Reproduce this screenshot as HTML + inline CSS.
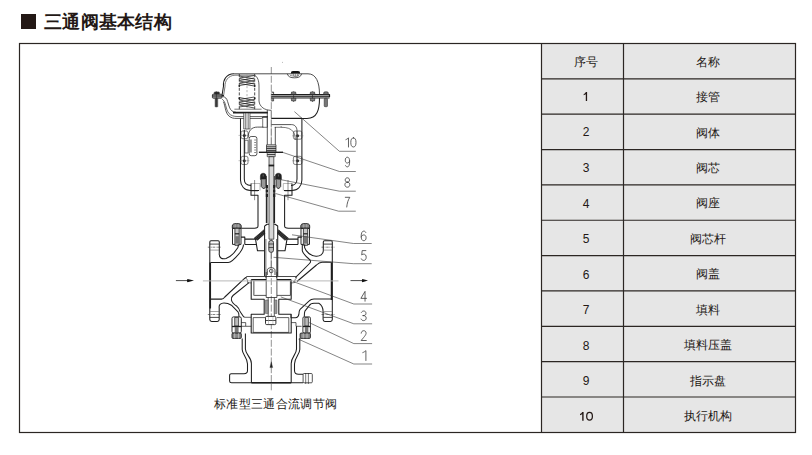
<!DOCTYPE html>
<html><head><meta charset="utf-8">
<style>
*{margin:0;padding:0;box-sizing:border-box}
html,body{width:812px;height:455px;background:#fff;overflow:hidden;font-family:"Liberation Sans",sans-serif;color:#231815}
#title{position:absolute;left:21px;top:11px;height:22px;font-size:18px;font-weight:900;line-height:22px;white-space:nowrap}
#title .sq{position:absolute;left:0;top:3.3px;width:14.8px;height:14.6px;background:#231815}
#title .tx{position:absolute;left:23px;top:0;letter-spacing:0.3px}
#frame{display:none}
#tbl{position:absolute;left:542px;top:43px;width:254px;height:390px;background:#e6e6e6}
#tbl .hl{position:absolute;left:0;width:254px;height:1px;background:#3a3532}
#tbl .vl{position:absolute;top:0;width:1px;height:390px;background:#3a3532}
#tbl .c{position:absolute;font-size:12px;line-height:14px;text-align:center;color:#231815}
#drw{position:absolute;left:0;top:0}
#cap{position:absolute;left:214px;top:397px;font-size:12px;line-height:14px;color:#231815;white-space:nowrap;letter-spacing:0.33px}
</style></head><body>
<div id="title"><div class="sq"></div><div class="tx">三通阀基本结构</div></div>
<div id="frame"></div>
<div id="tbl">
<div class="c" style="left:4px;width:80px;top:11.67px">序号</div>
<div class="c" style="left:84px;width:164px;top:11.67px">名称</div>
<div class="c" style="left:84px;width:164px;top:47.12px">接管</div>
<div class="c" style="left:4px;width:80px;top:82.44px">2</div>
<div class="c" style="left:84px;width:164px;top:82.56px">阀体</div>
<div class="c" style="left:4px;width:80px;top:117.97px">3</div>
<div class="c" style="left:84px;width:164px;top:118.00px">阀芯</div>
<div class="c" style="left:4px;width:80px;top:153.50px">4</div>
<div class="c" style="left:84px;width:164px;top:153.44px">阀座</div>
<div class="c" style="left:4px;width:80px;top:189.03px">5</div>
<div class="c" style="left:84px;width:164px;top:188.88px">阀芯杆</div>
<div class="c" style="left:4px;width:80px;top:224.55px">6</div>
<div class="c" style="left:84px;width:164px;top:224.31px">阀盖</div>
<div class="c" style="left:4px;width:80px;top:260.08px">7</div>
<div class="c" style="left:84px;width:164px;top:259.75px">填料</div>
<div class="c" style="left:4px;width:80px;top:295.62px">8</div>
<div class="c" style="left:84px;width:164px;top:295.20px">填料压盖</div>
<div class="c" style="left:4px;width:80px;top:331.14px">9</div>
<div class="c" style="left:84px;width:164px;top:330.63px">指示盘</div>
<div class="c" style="left:84px;width:164px;top:366.07px">执行机构</div>
</div>
<div id="cap">标准型三通合流调节阀</div>
<svg id="drw" width="812" height="455" viewBox="0 0 812 455">
<g stroke="#2b2623" stroke-width="1.2" fill="none">
<rect x="19.5" y="43.5" width="776" height="389"/>
<line x1="541.5" y1="43.5" x2="541.5" y2="432.5"/>
<line x1="623.5" y1="43.5" x2="623.5" y2="432.5"/>
<line x1="542" y1="78.85" x2="795.5" y2="78.85"/>
<line x1="542" y1="114.20" x2="795.5" y2="114.20"/>
<line x1="542" y1="149.55" x2="795.5" y2="149.55"/>
<line x1="542" y1="184.90" x2="795.5" y2="184.90"/>
<line x1="542" y1="220.25" x2="795.5" y2="220.25"/>
<line x1="542" y1="255.60" x2="795.5" y2="255.60"/>
<line x1="542" y1="290.95" x2="795.5" y2="290.95"/>
<line x1="542" y1="326.30" x2="795.5" y2="326.30"/>
<line x1="542" y1="361.65" x2="795.5" y2="361.65"/>
<line x1="542" y1="397.00" x2="795.5" y2="397.00"/>
</g>
<!--DRAWSTART-->
<g id="dw" fill="none" stroke="#1e1e1e" stroke-width="1.05" stroke-linejoin="round" stroke-linecap="butt">
<!-- centerline -->
<line x1="271.3" y1="67" x2="271.3" y2="390.3" stroke="#666" stroke-width="0.7" stroke-dasharray="7,1.8"/>
<!-- ACTUATOR upper case -->
<path d="M234,73.8 H308 C316,73.8 319.5,82 319.5,94.6" stroke="#444" stroke-width="0.95"/>
<path d="M234,73.8 C226,74 223,80 223.5,86 L222,95.5"/>
<path d="M235,75.2 C228,75.5 224.8,81 225,86.5 L223.6,95.5" stroke-width="0.6"/>
<path d="M235,75.2 H254.7" stroke-width="0.6"/>
<!-- flange band right -->
<rect x="271.3" y="94.5" width="58.2" height="2.2" fill="#999" stroke="none"/>
<path d="M271.3,94.5 H329.5 V97.2 M271.3,96.8 H329.5" stroke-width="1.2"/>
<path d="M271.3,98.3 H329.5" stroke-width="0.6"/>
<!-- flange left -->
<path d="M212.5,95.6 H224"/>
<!-- lower case right exterior -->
<path d="M319.5,97.9 C319.5,110 317,118.4 307,118.4 H271.3"/>
<!-- vent -->
<path d="M287.3,73.8 C288,77 291,77.8 294.5,77.8 C298,77.8 301,77 301.6,73.8" stroke-width="0.75"/>
<path d="M290,75.3 C292,76.3 297,76.3 299,75.3" stroke-width="0.5"/>
<path d="M291,73.6 V72.3 C291,71.4 292,71 295.5,71 C299,71 300,71.4 300,72.3 V73.6 Z" fill="#111" stroke="none"/>
<rect x="293.8" y="73.6" width="3.9" height="2.6" fill="#fff" stroke="#222" stroke-width="0.5"/>
<path d="M295.7,73.6 V76.2" stroke="#222" stroke-width="0.5"/>
<circle cx="282.4" cy="62.2" r="0.45" fill="#777" stroke="none"/>
<!-- bolts on flange (right) -->
<g stroke-width="0.6" fill="#888">
<path d="M293.6,91.3 V102 M312.5,91.3 V102 M326,91.3 V94"/>
<path d="M271.3,92 H273.6 V94.2 M271.3,98.3 H273.6 V101 H271.3"/>
<path d="M291.2,94.2 L291.6,92 H295.6 L296,94.2 Z M291.2,98.3 L291.6,100.9 H295.6 L296,98.3 Z"/>
<path d="M310.1,94.2 L310.5,92 H314.5 L314.9,94.2 Z M310.1,98.3 L310.5,100.9 H314.5 L314.9,98.3 Z"/>
<path d="M323.6,94.2 L324,92 H328 L328.4,94.2 Z"/>
<rect x="324.2" y="98.3" width="3.3" height="8.4" rx="0.8" fill="#777" stroke-width="0.5"/>
</g>
<!-- left bolt -->
<rect x="214.2" y="91.9" width="5.2" height="2.4" rx="0.8" fill="#333" stroke="#222" stroke-width="0.5"/>
<rect x="212.4" y="94.2" width="9.6" height="4" rx="0.8" fill="#999" stroke="#222" stroke-width="0.8"/>
<path d="M212.4,96 H222.5" stroke="#222" stroke-width="0.8"/>
<rect x="215" y="98.2" width="2.8" height="8.6" fill="#555" stroke="#333" stroke-width="0.4"/>
<path d="M216.4,91.3 V107.2" stroke="#222" stroke-width="0.6"/>
<!-- spring housing lines -->
<path d="M239.3,74 V110 M254.7,74 V110" stroke-width="0.8" stroke-dasharray="3,1.6"/>
<path d="M247,74 V110" stroke="#999" stroke-width="0.7" stroke-dasharray="2.2,1.8"/>
<g stroke-width="0.75">
<path d="M239.4,76 L254.4,79 M239.4,78.5 L254.4,81.5 M239.4,81 L254.4,84 M239.4,83.5 L254.4,86"/>
<path d="M239.4,78 L254.4,75.5 M239.4,80.5 L254.4,78 M239.4,83 L254.4,80.5 M239.4,85.5 L254.4,83"/>
<path d="M239.4,97.5 L254.4,100.5 M239.4,100 L254.4,103 M239.4,102.5 L254.4,105.5 M239.4,105 L254.4,108"/>
<path d="M239.4,99.5 L254.4,97 M239.4,102 L254.4,99.5 M239.4,104.5 L254.4,102 M239.4,107 L254.4,104.5"/>
</g>
<circle cx="239.3" cy="86" r="0.9" fill="#222" stroke="none"/><circle cx="254.7" cy="86" r="0.9" fill="#222" stroke="none"/>
<circle cx="239.3" cy="98.2" r="0.9" fill="#222" stroke="none"/><circle cx="254.7" cy="98.2" r="0.9" fill="#222" stroke="none"/>
<!-- inner cup wall -->
<path d="M255,75.5 C257.5,77 259,80.5 259,86 V101 C259.3,104 260.5,106 263,108 C265,109.5 268,110.2 271.3,110.4" stroke-width="0.7"/>
<!-- lower case left (section) -->
<path d="M222.5,96.4 C225.5,97 226.8,98.5 227.6,101.5 L229,106 C229.8,108.5 231,110.8 233.5,111.8 L236,112.3" stroke-width="0.75"/>
<path d="M233,112.6 H267.8" stroke-width="1.6"/>
<path d="M222.1,99.1 C224,100.5 225,102.5 225.7,105.5 L226.9,109.6 C227.8,112.5 229.5,114.8 232.6,115.8 C234,116.3 235.5,116.5 237,116.5 H268" stroke-width="0.65"/>
<path d="M223.4,101.7 C224.5,104 225,107.5 225.8,110.5 C226.8,114 228.5,116.8 232.6,118 C233.8,118.3 235,118.4 236,118.4 H261.6 L262.8,117 H267.6" stroke-width="0.75"/>
<path d="M234.4,109.2 H261.6" stroke-width="0.6"/>
<!-- yoke top bolt left -->
<rect x="243.7" y="113" width="6.3" height="16" fill="#eee" stroke-width="0.6"/>
<path d="M245.4,113 V129 M248.3,113 V129" stroke-width="0.5"/>
<path d="M246.85,113 V130.5" stroke="#666" stroke-width="0.4"/>
<!-- small boss right of stem -->
<rect x="262.7" y="117.3" width="4.6" height="10" stroke-width="0.6"/>
<!-- yoke -->
<path d="M240.5,118.5 V180 C240.5,186 244.5,190.5 250.5,190.5 H259" />
<path d="M244.3,130 V179 C244.3,183 247,185.5 251,185.5" />
<path d="M301.9,118.3 V180 C301.9,186 298,190.5 292,190.5 H284" />
<path d="M297,131 V179 C297,183 294.5,185.5 291,185.5" />
<path d="M271.3,118.3 H301.9" stroke-width="1.1"/>
<path d="M271.3,124.6 H291.5 C294.8,124.6 297,127 297,131" stroke-width="0.75"/>
<path d="M248.1,137.6 C248.3,130.5 251.5,127.1 257.5,127.1 H263.3" stroke-width="0.75"/>
<path d="M244.8,140.3 H248.1 V153 H244.8 Z" stroke-width="0.6"/>
<path d="M274.7,127.3 H281.3 C287,127.3 291,128.5 293.5,132 C294.6,133.5 295.2,136 295.2,140" stroke-width="0.6"/>
<path d="M280.8,126 L281.8,127.6" stroke-width="0.5"/>
<!-- yoke bolt bosses -->
<g stroke-width="0.55">
<rect x="241" y="131" width="7" height="7.7" rx="1.8"/>
<rect x="241" y="156.3" width="7" height="8.2" rx="1.8"/>
<rect x="293.4" y="131" width="8.5" height="8.2" rx="1.8"/>
<rect x="293.4" y="156.3" width="8.5" height="8.2" rx="1.8"/>
<path d="M238.5,135.4 H249.5 M238.5,160.7 H249.5 M292,135.8 H303.5 M292,160.8 H303.5" stroke="#666" stroke-width="0.4"/>
</g>
<g fill="#333" stroke="none">
<circle cx="244.3" cy="135.4" r="1.5"/><circle cx="244.3" cy="160.7" r="1.5"/>
<circle cx="297.6" cy="135.8" r="1.5"/><circle cx="297.6" cy="160.8" r="1.5"/>
</g>
<!-- scale plate -->
<rect x="249.2" y="136.5" width="7.7" height="19.2" rx="2" stroke-width="0.75"/>
<rect x="250.3" y="139.5" width="1.3" height="13" fill="#666" stroke="none"/>
<path d="M254.3,140 h1.6 M254.3,142.5 h1.6 M254.3,145 h1.6 M254.3,147.5 h1.6 M254.3,150 h1.6 M254.3,152.5 h1.6" stroke-width="0.6"/>
<!-- stem -->
<path d="M267.3,110 V144.8 M275.3,127 V144.8" stroke-width="0.75"/>
<path d="M271.3,110 V144.8" stroke-width="0.5" stroke="#777"/>
<rect x="266.5" y="144.8" width="9.5" height="7.2" fill="#ddd" stroke-width="0.7"/>
<path d="M266.5,146.8 h9.5 M266.5,148.6 h9.5 M266.5,150.4 h9.5" stroke-width="0.9"/>
<rect x="267.2" y="152.6" width="8" height="4.1" fill="#ddd" stroke-width="0.6"/>
<path d="M267.2,154.6 h8" stroke-width="0.9"/>
<rect x="269" y="156.7" width="4.8" height="82.5" fill="#d8d8d8" stroke-width="0.7"/>
<path d="M268.7,165.5 h5.4" stroke-width="1.8"/>
<!-- indicator disk -->
<path d="M258.9,152.3 H283" stroke-width="1.4"/>
<!-- yoke/bonnet joint -->
<path d="M251,183.5 H260 V190.5" stroke="#888" stroke-width="0.6"/>
<path d="M251,183.5 V195.3 H258 V226 C258,227.5 256.5,228.2 254.5,228.2 H241.3" />
<path d="M251,190.8 H258" stroke-width="0.7"/>
<path d="M292,183.5 H283.3 V190.5" stroke="#888" stroke-width="0.6"/>
<path d="M292,183.5 V195.3 H284.6 V226 C284.6,227.5 286.3,228.2 288.3,228.2 H300.8" />
<path d="M292,190.8 H284.6" stroke-width="0.7"/>
<path d="M254.6,180 V200.2 M288,180 V200.2" stroke-width="0.5"/>
<!-- packing box -->
<path d="M266.3,176 V223 M274.6,176 V223" stroke-width="0.8"/>
<g fill="#222" stroke="none">
<rect x="265.8" y="185" width="2.2" height="3.5"/><rect x="265.8" y="189.5" width="2.2" height="3"/><rect x="265.8" y="193.5" width="2.2" height="3.5"/>
<rect x="273.1" y="185" width="2.2" height="3.5"/><rect x="273.1" y="189.5" width="2.2" height="3"/><rect x="273.1" y="193.5" width="2.2" height="3.5"/>
</g>
<path d="M266.8,197 V223 M274.3,197 V223" stroke-width="1.3"/>
<!-- gland bolts -->
<path d="M260.4,176.5 C260.4,174 261.5,173.3 263.2,173.3 C265,173.3 266.1,174 266.1,176.5 V179.4 H260.4 Z" fill="#222" stroke="#111" stroke-width="0.5"/>
<path d="M275.4,176.5 C275.4,174 276.5,173.3 278.4,173.3 C280.3,173.3 281.4,174 281.4,176.5 V179.4 H275.4 Z" fill="#222" stroke="#111" stroke-width="0.5"/>
<path d="M261.2,179.4 V186.5 L263.7,189 L266,186.5 V179.4 M276.1,179.4 V186.5 L278.4,189 L280.7,186.5 V179.4" fill="#999" stroke="#111" stroke-width="0.8"/>
<path d="M263.2,174.5 V176.5 M278.4,174.5 V176.5" stroke="#888" stroke-width="0.6"/>
<!-- bonnet bolts -->
<g id="bb1">
<path d="M232.3,228.3 V226 C232.3,224.2 233.5,223.6 236.7,223.6 C240,223.6 241.2,224.2 241.2,226 V228.3 Z" fill="#888" stroke="#1e1e1e" stroke-width="0.9"/>
<path d="M235.2,224 V228.3 M238.2,224 V228.3" stroke="#ccc" stroke-width="0.5"/>
<rect x="232.5" y="228.3" width="8.5" height="16.1" stroke-width="0.95"/>
<rect x="234.9" y="228.3" width="4.3" height="17" fill="#c8c8c8" stroke-width="0.8"/>
<path d="M234.9,233.8 h4.3" stroke-width="1.2"/>
<rect x="235.2" y="236.2" width="3.8" height="7.4" fill="#777" stroke="none"/>
</g>
<use href="#bb1" transform="translate(68.5,0)"/>
<!-- body top flange lines -->
<path d="M241,237.1 H244.8 V244.4 M244.8,239.1 H255.5 L257.5,250.8 H264.6 M244.8,244.4 H257" />
<path d="M301.8,237.1 H298 V244.4 M298,239.1 H287 L285,250.8 H277.7 M298,244.4 H285.5" />
<!-- hatched packing/cones -->
<defs>
<pattern id="hL" patternUnits="userSpaceOnUse" width="1.7" height="1.7" patternTransform="rotate(-40)"><rect width="1.7" height="1.7" fill="#fff"/><rect width="0.5" height="1.7" fill="#888"/></pattern>
<pattern id="hR" patternUnits="userSpaceOnUse" width="1.7" height="1.7" patternTransform="rotate(40)"><rect width="1.7" height="1.7" fill="#fff"/><rect width="0.5" height="1.7" fill="#888"/></pattern>
</defs>
<path d="M254,238.3 L263.9,229.8 L264.8,233.8 L257.6,240.2 Z" fill="url(#hL)" stroke-width="0.6"/>
<path d="M288.5,238.3 L278.6,229.8 L277.7,233.8 L284.9,240.2 Z" fill="url(#hR)" stroke-width="0.6"/>
<!-- guide column -->
<path d="M264.6,226 L267.1,224.2 H269 M273.8,224.2 H275.1 L277.7,226 V276 M264.6,226 V276" />
<path d="M265.9,239 V278 M276.5,239 V278" stroke-width="0.6"/>
<path d="M258,242.3 V242.3" />
<rect x="268.8" y="240.5" width="4.7" height="11.8" rx="2" fill="#bbb" stroke-width="0.8"/>
<path d="M268.8,244 h4.7 M268.8,247.5 h4.7" stroke-width="0.7"/>
<path d="M271.2,252.3 V268" stroke="#444" stroke-width="0.5"/>
<path d="M267.3,275 V270.5 C267.3,268.5 269,267.7 271.2,267.7 C273.4,267.7 275,268.5 275,270.5 V275" stroke-width="0.8"/>
<circle cx="271.2" cy="271" r="1.8" stroke-width="0.7"/>
<!-- LEFT FLANGE -->
<path d="M209.8,242 C209.8,241.2 210.3,240.8 211,240.8 H218.1 C218.8,240.8 219.3,241.2 219.3,242 V252.7 C218.7,258 222,259.5 226,258.5 C230.5,257 235,252 237.6,248 C238.5,246.5 238.3,245.5 238.3,244.5" />
<path d="M209.8,242 V319.5 C209.8,320.7 210.5,321.4 211.7,321.4 H217.3 C218.5,321.4 219.2,320.7 219.2,319.5 V307.9 C218.7,305 220.5,303 224,303 C227,303 229.5,304 231.4,305.2 L238,311.8 C238.8,312.6 239,314 239,316.7" />
<path d="M210.2,262.5 V308.5" stroke-width="1.7"/>
<path d="M210.6,262.5 H228.2 C232,262.5 236,257.5 240,252.5 C242.5,249 243.5,247 243.5,244.4" />
<path d="M210.6,299.1 H221.5 C223,299.1 224,298.2 224.8,297 L243.5,279.3 C244.5,278.3 245.5,277.5 246.5,277.2" />
<path d="M249,282.6 L233,295.5 C231.3,297 231,298.5 231.4,300 C232,302.5 234,304.5 236.9,306.3 C238.5,307.5 239.5,309.5 240.2,311.8 L242.4,315 C243,316 243.8,317 244.6,317.3" />
<path d="M207.8,247.2 H221 M207.8,314.5 H221" stroke="#333" stroke-width="0.6" stroke-dasharray="2.5,0.7,0.8,0.7"/>
<path d="M209.8,244.1 H219 M209.8,317.4 H219" stroke-width="0.8"/>
<path d="M209.8,250.1 H219 M209.8,311.5 H219" stroke="#666" stroke-width="0.6"/>
<!-- RIGHT FLANGE -->
<path d="M332.3,242 C332.3,241.2 331.8,240.8 331.1,240.8 H324.5 C323.8,240.8 323.3,241.2 323.3,242 V251 C323.3,254 320,256.5 316,256.2 C311,256 306,252 304.6,247.7 V244.4" />
<path d="M332.3,242 V319.5 C332.3,320.7 331.6,321.4 330.4,321.4 H324.9 C323.7,321.4 323.1,320.7 323.1,319.5 V311.7 C323,308 322,305 318.8,303.3 H314 C311.5,303.3 309.8,304.5 309.2,305.7 L304.9,311.1 C304.5,312 304.3,314 304.3,316.7" />
<path d="M331.6,262.3 V300" stroke-width="1.7"/>
<path d="M302.3,244.4 V250.8 C303,253.5 306,256.5 309,259 C311,260.5 311,262 309.5,263.5 L295.4,277.7" />
<path d="M331.5,262.3 H322 C319.5,262.3 318.5,263 316.5,265 L297,281.5" />
<path d="M331.5,299 H314 C311.5,299 310.5,299.5 309.2,300.9 L300.1,309.3 C299.2,310.5 298.9,312 298.9,314.2 C298.5,316.5 297.5,317.8 295.3,317.8 H290.8" />
<path d="M321.5,247.2 H334.5 M321.5,314.5 H334.5" stroke="#333" stroke-width="0.6" stroke-dasharray="2.5,0.7,0.8,0.7"/>
<path d="M323.3,244.1 H332.3 M323.3,317.4 H332.3" stroke-width="0.8"/>
<path d="M323.3,250.1 H332.3 M323.3,311.5 H332.3" stroke="#666" stroke-width="0.6"/>
<!-- seat top ring -->
<path d="M246.5,276.5 H295.8" stroke-width="0.8"/>
<path d="M251.2,279.8 H266.2 M276.9,279.8 H291.2" stroke-width="1.5"/>
<path d="M246.5,276.5 L245.8,278 L247.5,280 V282.5 L251.2,283" stroke-width="0.6"/>
<path d="M295.8,276.5 L296.5,278 L294.8,280 V282.5 L291.2,283" stroke-width="0.6"/>
<!-- PLUG -->
<path d="M251.2,279.8 V299.2 H264.2 V314.3 H251.2 V333 H291.2 V314.3 H278.8 V299.2 H291.2 V279.8" />
<path d="M253.8,280.8 V295.4 H266.2 M276.9,295.4 H290.4 V280.8" stroke-width="0.75"/>
<rect x="253.9" y="281" width="1" height="14.2" fill="#bbb" stroke="none"/>
<path d="M266.2,272 V297.5 H276.9 V272" stroke-width="0.75"/>
<path d="M268.2,297.5 V316.3 M274.3,297.5 V316.3" stroke-width="0.7"/>
<rect x="265.5" y="300" width="2.7" height="13.5" fill="#999" stroke="#333" stroke-width="0.4"/>
<rect x="274.3" y="300" width="2.7" height="13.5" fill="#999" stroke="#333" stroke-width="0.4"/>
<path d="M253.2,317.6 H265.7 M276.9,317.6 H288.8 M253.2,317.6 V332.4 H288.8 V317.6" stroke-width="0.7"/>
<!-- nut -->
<rect x="265.5" y="316.4" width="10.4" height="8.2" rx="1.2" fill="#fff" stroke-width="0.9"/>
<path d="M265.5,320.5 h10.4" stroke-width="0.8"/>
<path d="M268.5,316.8 v7.4 M272.9,316.8 v7.4" stroke="#999" stroke-width="0.5"/>
<!-- lower body -->
<path d="M244.6,317.3 H251.2 M241.3,322.6 H245.7 V326.3 H251.2 M241.3,326.3 H245.7" stroke-width="0.7"/>
<path d="M290.8,317.8 V314.3 M291.2,322.6 H296 V326.3 H301.6" stroke-width="0.7"/>
<!-- lower body bolts -->
<g id="lb1">
<rect x="232" y="316.9" width="9.3" height="16.2" rx="1.5" stroke-width="0.95"/>
<rect x="234.7" y="317.5" width="3.9" height="8.5" fill="#bbb" stroke-width="0.7"/>
<path d="M232,326.5 h9.3" stroke-width="1.3"/>
<rect x="234.7" y="327" width="3.9" height="6" fill="#777" stroke="none"/>
<rect x="232" y="333.1" width="9.3" height="5.3" rx="1" fill="#888" stroke-width="0.9"/>
<path d="M234.7,333.1 V338.4 M238.6,333.1 V338.4" stroke="#eee" stroke-width="0.5"/>
</g>
<g>
<rect x="302.9" y="316.9" width="7.5" height="16.2" rx="1.2" stroke-width="0.9"/>
<rect x="304.8" y="317.5" width="3.6" height="8.5" fill="#bbb" stroke-width="0.7"/>
<path d="M302.9,326.5 h7.5" stroke-width="1.3"/>
<rect x="304.8" y="327" width="3.6" height="6" fill="#777" stroke="none"/>
<rect x="300.1" y="333.1" width="10.3" height="5.3" rx="1" fill="#888" stroke-width="0.9"/>
<path d="M303.2,333.1 V338.4 M307,333.1 V338.4" stroke="#eee" stroke-width="0.5"/>
</g>
<!-- lower body neck & flange -->
<path d="M242.2,338.5 V349.5 C242.2,354.5 247.5,357.5 247.5,364 V370.5 C247.5,372.5 246.5,373.7 244,373.7 H231.6 C230.3,373.5 229.6,374.3 229.6,375.5 V381 C229.6,382.2 230.3,382.8 231.6,382.8 H303.1" />
<path d="M245.4,333.4 V349 C245.4,354.5 251.4,357 251.4,363.5 V382.8" />
<path d="M299.8,337.9 V349.5 C299.8,354.5 294.5,357.5 294.5,364 V370.5 C294.5,372.8 296,374.2 298.5,374.2 H303.1" />
<path d="M296.5,326.3 V349 C296.5,354.5 291.2,357 291.2,363.5 V382.8" />
<path d="M251.4,382.8 H291.2" stroke-width="1.4"/>
<rect x="303.1" y="373.5" width="9.2" height="9.3" rx="1" stroke-width="0.75"/>
<path d="M305.7,373 V384 M308.4,373 V384" stroke-width="0.6"/>
<!-- flow arrow up -->
<path d="M271.3,361.7 L269.9,367.6 H272.7 Z" fill="#222" stroke-width="0.3"/>
<!-- horizontal flow line -->
<path d="M202.9,280.9 H338.5" stroke="#b0b0b0" stroke-width="0.9"/>
<!-- left arrow -->
<path d="M175.9,280.6 H188" stroke-width="0.8"/>
<path d="M194,280.6 L187.5,278.9 C186.8,279.6 186.8,281.6 187.5,282.3 Z" fill="#111" stroke="none"/>
<!-- right arrow -->
<path d="M350.5,280.6 H362.5" stroke-width="0.8"/>
<path d="M368,280.6 L362.4,278.9 C361.7,279.6 361.7,281.6 362.4,282.3 Z" fill="#111" stroke="none"/>
<!-- leaders -->
<g stroke-width="0.6" stroke="#333">
<path d="M294.4,111.6 L339.4,151.3 H355.8"/>
<path d="M282.5,152.3 L339.4,171.5 H355.8"/>
<path d="M277.5,179 L339.4,191.2 H355.8"/>
<path d="M275.5,193.5 L338.6,211.2 H355.8"/>
<path d="M292,234.8 L353.5,243.5 H371.7"/>
<path d="M273.5,257.3 L353.5,263.7 H371.7"/>
<path d="M293.1,281.5 L353.8,304 H372.1"/>
<path d="M280.8,296.9 L353.8,323.8 H372.1"/>
<path d="M309.2,322.6 L353.8,343.6 H372.1"/>
<path d="M298.5,339.2 L353.8,364 H372.1"/>
</g>
</g>
<g fill="none" stroke="#3a3a3a" stroke-width="0.8" stroke-linejoin="round" stroke-linecap="round">
<path transform="translate(344.9,137.8) scale(1.125,0.920)" vector-effect="non-scaling-stroke" d="M0.9,2 C1.9,1.5 2.6,0.8 3.2,0 V10"/>
<path transform="translate(350.8,137.8) scale(1.040,0.920)" vector-effect="non-scaling-stroke" d="M2.5,0 C0.8,0 0,2 0,5 C0,8 0.8,10 2.5,10 C4.2,10 5,8 5,5 C5,2 4.2,0 2.5,0 Z"/>
<path transform="translate(345.1,157.2) scale(0.940,0.970)" vector-effect="non-scaling-stroke" d="M0.5,8.7 C0.9,9.6 1.6,10 2.4,10 C4,10 4.8,7.8 4.8,4.7 C4.8,1.6 4,0 2.4,0 C1,0 0.2,1.2 0.2,3.1 C0.2,4.9 1,6 2.4,6 C3.5,6 4.4,5.2 4.8,4"/>
<path transform="translate(344.8,177.8) scale(1.020,0.940)" vector-effect="non-scaling-stroke" d="M2.5,4.7 C1.2,4.7 0.4,3.8 0.4,2.4 C0.4,0.9 1.3,0 2.5,0 C3.7,0 4.6,0.9 4.6,2.4 C4.6,3.8 3.8,4.7 2.5,4.7 C1,4.7 0.1,5.7 0.1,7.3 C0.1,9 1.1,10 2.5,10 C3.9,10 4.9,9 4.9,7.3 C4.9,5.7 4,4.7 2.5,4.7 Z"/>
<path transform="translate(345.1,197.3) scale(0.960,0.970)" vector-effect="non-scaling-stroke" d="M0.2,0 H4.9 C3.2,2.6 2.1,5.8 1.7,10"/>
<path transform="translate(361.0,231.1) scale(1.060,0.960)" vector-effect="non-scaling-stroke" d="M4.5,1.3 C4.1,0.4 3.4,0 2.6,0 C1,0 0.2,2.2 0.2,5.3 C0.2,8.4 1,10 2.6,10 C4,10 4.8,8.8 4.8,6.9 C4.8,5.1 4,4 2.6,4 C1.5,4 0.6,4.8 0.2,6"/>
<path transform="translate(361.1,250.6) scale(1.060,0.980)" vector-effect="non-scaling-stroke" d="M4.5,0 H1 L0.6,4.5 C1.1,3.9 1.8,3.6 2.5,3.6 C4,3.6 4.8,4.9 4.8,6.8 C4.8,8.8 3.8,10 2.4,10 C1.3,10 0.5,9.3 0.2,8.4"/>
<path transform="translate(360.9,291.4) scale(1.120,0.980)" vector-effect="non-scaling-stroke" d="M3.7,10 V0 L0,7.1 H5"/>
<path transform="translate(361.0,311.0) scale(1.080,0.960)" vector-effect="non-scaling-stroke" d="M0.4,1.4 C0.9,0.5 1.6,0 2.5,0 C3.8,0 4.6,1 4.6,2.5 C4.6,3.9 3.7,4.8 2,4.8 C3.9,4.8 4.8,5.8 4.8,7.4 C4.8,9 3.8,10 2.4,10 C1.3,10 0.5,9.4 0.1,8.4 M2,4.8 H1.6"/>
<path transform="translate(360.9,330.7) scale(1.100,0.980)" vector-effect="non-scaling-stroke" d="M0.3,2.5 C0.5,0.8 1.4,0 2.6,0 C3.9,0 4.7,1 4.7,2.5 C4.7,4 3.8,5.2 0.2,10 H4.9"/>
<path transform="translate(361.6,350.6) scale(1.344,0.990)" vector-effect="non-scaling-stroke" d="M0.9,2 C1.9,1.5 2.6,0.8 3.2,0 V10"/>
</g>
<g fill="#231815" stroke="none"><path d="M585.8,92 H587.1 V100.9 H585.8 V94.2 L583.7,95.3 V94.1 C584.8,93.6 585.4,93 585.8,92 Z"/><path d="M582.2,411.9 H583.6 V420.7 H582.2 V414.3 L580,415.3 V414.1 C581.1,413.6 581.8,412.9 582.2,411.9 Z"/><ellipse cx="589.55" cy="416.3" rx="2.85" ry="3.85" fill="none" stroke="#231815" stroke-width="1.25"/></g>
<!--DRAWEND-->
</svg>
</body></html>
